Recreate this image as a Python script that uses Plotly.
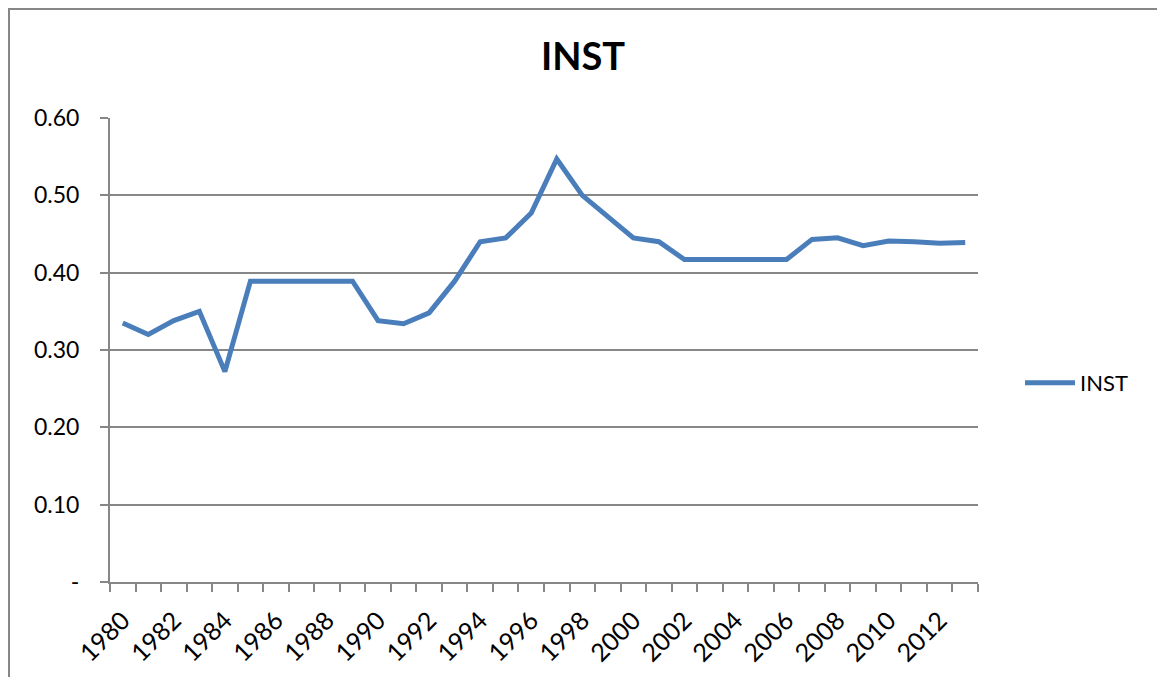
import plotly.graph_objects as go

years = list(range(1980, 2014))
inst = [0.335, 0.320, 0.338, 0.350, 0.272, 0.389, 0.389, 0.389, 0.389, 0.389,
        0.338, 0.334, 0.348, 0.389, 0.440, 0.445, 0.477, 0.547, 0.500, 0.473,
        0.445, 0.440, 0.417, 0.417, 0.417, 0.417, 0.417, 0.443, 0.445, 0.435,
        0.441, 0.440, 0.438, 0.439]
y_tickvals = [0, 0.1, 0.2, 0.3, 0.4, 0.5, 0.6]
y_ticktext = ["-", "0.10", "0.20", "0.30", "0.40", "0.50", "0.60"]
x_label_years = list(range(1980, 2013, 2))

FONT = "Lato, 'Open Sans', sans-serif"
GRAY = "#878787"

# page has an 8px body margin; work in page coordinates and subtract it
OFF = 8
W, H = 1165 - OFF, 677 - OFF
L, T = 110 - OFF, 118 - OFF
R = W - (978 - OFF)
B = H - (582 - OFF)
pw = W - L - R
ph = H - T - B


def px_x(p):
    return (p - OFF - L) / pw


def px_y(p):
    return (H - B - (p - OFF)) / ph


fig = go.Figure()
fig.add_trace(go.Scatter(
    x=years, y=inst, mode="lines", name="INST",
    line=dict(color="#4A7EBB", width=5),
))

fig.update_layout(
    width=W, height=H,
    margin=dict(l=L, r=R, t=T, b=B, autoexpand=False),
    paper_bgcolor="white", plot_bgcolor="white",
    font=dict(family=FONT, size=22, color="black"),
    title=dict(text="<b>INST</b>", x=(583 - OFF) / W, xanchor="center",
               y=1 - (57 - OFF) / H, yanchor="middle",
               font=dict(family=FONT, size=38, color="black")),
    showlegend=True,
    legend=dict(x=px_x(1020), y=px_y(383), xanchor="left", yanchor="middle",
                font=dict(family=FONT, size=22, color="black"),
                bgcolor="rgba(0,0,0,0)", itemwidth=50),
    xaxis=dict(
        range=[1979.5, 2013.5],
        tickmode="array", tickvals=x_label_years,
        ticktext=[str(v) for v in x_label_years],
        tickangle=-45, ticks="", showgrid=False,
        showline=True, linecolor=GRAY, linewidth=2,
        tickfont=dict(family=FONT, size=25),
        ticklabelstandoff=12, automargin=False,
        zeroline=False,
        minor=dict(tickvals=[v - 0.5 for v in years] + [2013.5],
                   ticks="outside", ticklen=8, tickwidth=2,
                   tickcolor=GRAY, showgrid=False),
    ),
    yaxis=dict(
        range=[0, 0.6],
        tickmode="array", tickvals=y_tickvals, ticktext=y_ticktext,
        ticks="outside", ticklen=8, tickwidth=2, tickcolor=GRAY,
        showline=True, linecolor=GRAY, linewidth=2,
        showgrid=True, gridcolor=GRAY, gridwidth=1.5,
        zeroline=False, ticklabelstandoff=16, automargin=False,
        tickfont=dict(family=FONT, size=23),
    ),
    shapes=[dict(type="rect", xref="paper", yref="paper",
                 x0=px_x(9), x1=px_x(1160), y0=px_y(700), y1=px_y(OFF + 1),
                 line=dict(color=GRAY, width=2), fillcolor="rgba(0,0,0,0)",
                 layer="below")],
)

fig.write_html("out.html")
